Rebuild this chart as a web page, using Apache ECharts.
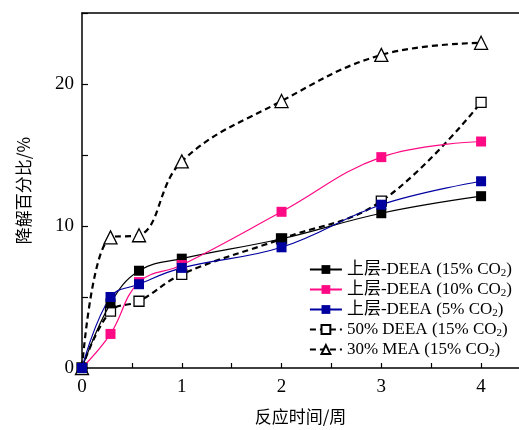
<!DOCTYPE html>
<html>
<head>
<meta charset="utf-8">
<script src="https://cdn.jsdelivr.net/npm/echarts@6/dist/echarts.min.js"></script>
<style>html,body{margin:0;padding:0;background:#fff}#c{width:519px;height:430px}</style>
</head>
<body>
<div id="c"></div>
<script>
var timeWeeks = [0, 2/7, 4/7, 1, 2, 3, 4];
var upperDEEA15 = [0, 4.55, 6.85, 7.7, 9.1, 10.9, 12.1];
var upperDEEA10 = [0, 2.4, 6.05, 7.25, 11.0, 14.85, 15.95];
var upperDEEA5 = [0, 5.0, 5.9, 7.05, 8.5, 11.5, 13.15];
var deea50 = [0, 4.0, 4.7, 6.6, 9.1, 11.75, 18.7];
var mea30 = [0, 9.2, 9.35, 14.55, 18.8, 22.05, 22.9];
var seriesNames = ['上层-DEEA (15% CO2)', '上层-DEEA (10% CO2)', '上层-DEEA (5% CO2)', '50% DEEA (15% CO2)', '30% MEA (15% CO2)'];
var xTickLabels = ['0', '1', '2', '3', '4'];
var yTickLabels = ['0', '10', '20'];

function pairs(ys) { return timeWeeks.map(function (x, i) { return [x, ys[i]]; }); }
var serif = 'Liberation Serif, Times New Roman, Noto Sans CJK SC, serif';
var cjk = 'Noto Sans CJK SC, sans-serif';

function mk(name, ys, color, symbol, filled, dashed) {
  return {
    name: name, type: 'line', data: pairs(ys), smooth: 0.4,
    symbol: symbol, symbolSize: symbol === 'triangle' ? 13 : 10,
    showAllSymbol: true,
    lineStyle: { color: dashed ? '#000' : color, width: dashed ? 2.2 : 1.2, type: dashed ? [6, 4] : 'solid' },
    itemStyle: { color: filled ? color : '#fff', borderColor: color, borderWidth: filled ? 0 : 1.3 },
    z: dashed ? 2 : 3
  };
}

var chart = echarts.init(document.getElementById('c'));
chart.setOption({
  animation: false,
  backgroundColor: '#fff',
  grid: { left: 82, right: 0, top: 13, bottom: 57, containLabel: false },
  xAxis: [{
    type: 'value', min: 0, max: 4.38, interval: 0.5,
    axisLine: { show: true, lineStyle: { color: '#000', width: 1.5 } },
    axisTick: { inside: true, length: 5, lineStyle: { color: '#000', width: 1.2 } },
    splitLine: { show: false },
    axisLabel: {
      color: '#000', fontFamily: serif, fontSize: 19, margin: 10,
      showMaxLabel: false,
      formatter: function (v) { var i = xTickLabels.indexOf(String(v)); return i >= 0 ? xTickLabels[i] : ''; }
    },
    name: '反应时间/周', nameLocation: 'middle', nameGap: 40,
    nameTextStyle: { color: '#000', fontFamily: cjk, fontSize: 17 }
  }, {
    type: 'value', position: 'top', min: 0, max: 4.38,
    axisLine: { show: true, onZero: false, lineStyle: { color: '#000', width: 1.5 } },
    axisTick: { show: false }, axisLabel: { show: false }, splitLine: { show: false }
  }],
  yAxis: {
    type: 'value', min: 0, max: 25, interval: 5,
    axisLine: { show: true, lineStyle: { color: '#000', width: 1.5 } },
    axisTick: { inside: true, length: 6, lineStyle: { color: '#000', width: 1.2 } },
    splitLine: { show: false },
    axisLabel: {
      color: '#000', fontFamily: serif, fontSize: 19, margin: 8,
      formatter: function (v) { var i = yTickLabels.indexOf(String(v)); return i >= 0 ? yTickLabels[i] : ''; }
    },
    name: '降解百分比/%', nameLocation: 'middle', nameGap: 50,
    nameTextStyle: { color: '#000', fontFamily: cjk, fontSize: 17 }
  },
  legend: {
    orient: 'vertical', right: 2, top: 256, itemGap: 2, itemWidth: 32, itemHeight: 11,
    data: seriesNames,
    formatter: function (n) {
      var m = n.match(/^(.*CO)2(\))$/);
      return '{a|' + m[1] + '}{s|2}{a|' + m[2] + '}';
    },
    textStyle: {
      color: '#000', fontFamily: serif, fontSize: 17,
      rich: {
        a: { fontFamily: serif, fontSize: 17, color: '#000', height: 19 },
        s: { fontFamily: serif, fontSize: 11, color: '#000', verticalAlign: 'bottom', padding: [7, 0, 0, 0] }
      }
    }
  },
  series: [
    mk(seriesNames[0], upperDEEA15, '#000000', 'rect', true, false),
    mk(seriesNames[1], upperDEEA10, '#ff0a85', 'rect', true, false),
    mk(seriesNames[2], upperDEEA5, '#0000a0', 'rect', true, false),
    mk(seriesNames[3], deea50, '#000000', 'rect', false, true),
    mk(seriesNames[4], mea30, '#000000', 'triangle', false, true)
  ]
});
</script>
</body>
</html>
